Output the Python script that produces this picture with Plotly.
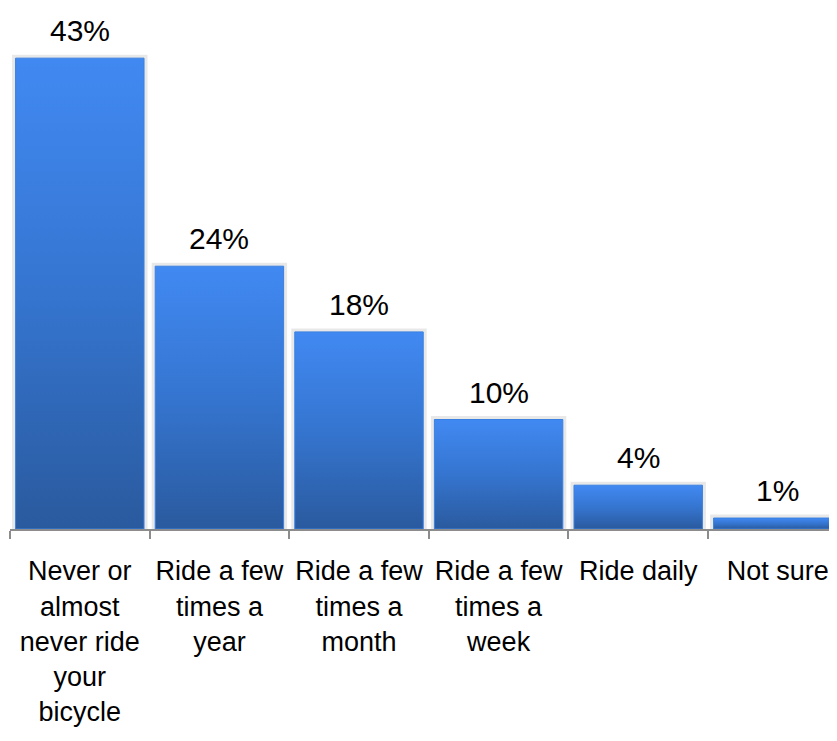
import plotly.graph_objects as go

categories = [
    "Never or<br>almost<br>never ride<br>your<br>bicycle",
    "Ride a few<br>times a<br>year",
    "Ride a few<br>times a<br>month",
    "Ride a few<br>times a<br>week",
    "Ride daily",
    "Not sure",
]
values = [43, 24, 18, 10, 4, 1]
value_labels = ["43%", "24%", "18%", "10%", "4%", "1%"]

positions = list(range(len(categories)))
bar_width = 0.92
FONT = "Liberation Sans, Arial, sans-serif"

fig = go.Figure()
for i, v in zip(positions, values):
    xs = [i - bar_width / 2, i + bar_width / 2, i + bar_width / 2, i - bar_width / 2, i - bar_width / 2]
    ys = [0, 0, v, v, 0]
    # soft shadow around each bar
    fig.add_trace(go.Scatter(
        x=xs, y=ys, mode="lines",
        line=dict(color="rgba(0,0,0,0.09)", width=7),
        hoverinfo="skip", showlegend=False,
    ))
    # gradient-filled bar
    fig.add_trace(go.Scatter(
        x=xs, y=ys, mode="lines", fill="toself",
        line=dict(color="#3a80e0", width=1),
        fillgradient=dict(
            type="vertical",
            colorscale=[[0, "#2a5a9e"], [0.5, "#3575d0"], [1, "#4189f2"]],
        ),
        hoverinfo="skip", showlegend=False,
    ))

for i, v, lab in zip(positions, values, value_labels):
    fig.add_annotation(
        x=i, y=v, text=lab, showarrow=False, yanchor="bottom", yshift=9,
        font=dict(size=30, color="black", family=FONT),
    )

fig.update_layout(
    width=829, height=725,
    margin=dict(l=2, r=0, t=0, b=204),
    paper_bgcolor="white", plot_bgcolor="white",
    showlegend=False,
    xaxis=dict(
        range=[-0.5, 5.424], automargin=False,
        tickmode="array", tickvals=positions, ticktext=categories,
        ticks="", showline=True, linecolor="#8c8c8c", linewidth=2,
        showgrid=False, zeroline=False,
        ticklabelstandoff=17,
        tickfont=dict(size=27, color="black", family=FONT),
        minor=dict(
            tickmode="array", tickvals=[p - 0.5 for p in positions],
            ticks="outside", ticklen=8, tickcolor="#8c8c8c", tickwidth=2,
            showgrid=False,
        ),
    ),
    yaxis=dict(range=[0, 47.58], visible=False),
)

fig.write_html("out.html")
